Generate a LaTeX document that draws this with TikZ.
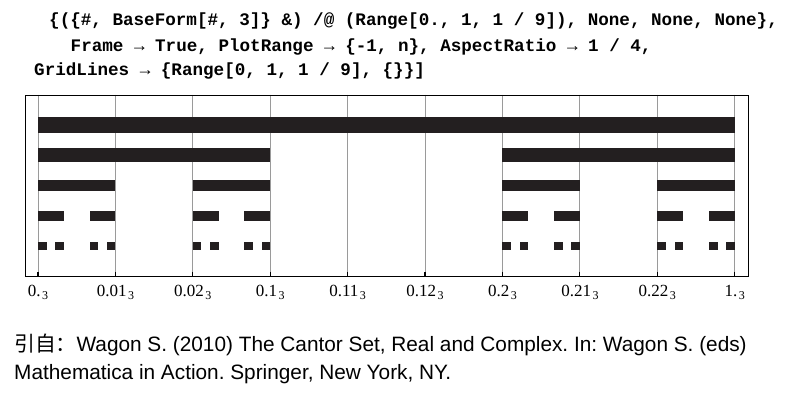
\documentclass[tikz,border=0pt]{standalone}
\usepackage{fontspec}
\setmainfont{Liberation Serif}
\newfontfamily\codefont{Liberation Mono}
\newfontfamily\capfont{Liberation Sans}
\newfontfamily\cjkfont{Noto Sans CJK SC}
\definecolor{barcol}{HTML}{231F20}
\definecolor{gridcol}{HTML}{9A9A9A}
\frenchspacing
\begin{document}
\begin{tikzpicture}[x=1pt,y=-1pt,
  bar/.style={fill=barcol},
  gridline/.style={draw=gridcol,line width=0.9pt},
  frameline/.style={draw=black,line width=1.1pt},
  tickline/.style={draw=black,line width=1.2pt},
  codeline/.style={anchor=base west,inner sep=0pt,font=\codefont\bfseries\fontsize{17.6}{17.6}\selectfont},
  ticklabel/.style={anchor=base,inner sep=0pt,font=\fontsize{17}{17}\selectfont},
  capline/.style={anchor=base west,inner sep=0pt,font=\capfont\fontsize{20.8}{20.8}\selectfont}]
\useasboundingbox (0,0) rectangle (802,394);
% code
\node[codeline] (c1) at (49,25) {\{(\{\#, BaseForm[\#, 3]\} \&) /@ (Range[0., 1, 1 / 9]), None, None, None\},};
\node[codeline] (c2) at (70.5,51) {Frame → True, PlotRange → \{-1, n\}, AspectRatio → 1 / 4,};
\node[codeline] (c3) at (34,75) {GridLines → \{Range[0, 1, 1 / 9], \{\}\}]};
% grid
\foreach \i in {0,...,9}{
  \draw[gridline] ({38+\i*77.411},94.5) -- ({38+\i*77.411},275.7);
  \draw[tickline] ({38+\i*77.411},271.5) -- ({38+\i*77.411},275.7);
}
% bars (units of 1/81)
\foreach \a in {0} \fill[bar] ({38+\a*8.6012},116.7) rectangle ({38+(\a+81)*8.6012},132.7);
\foreach \a in {0,54} \fill[bar] ({38+\a*8.6012},148) rectangle ({38+(\a+27)*8.6012},162);
\foreach \a in {0,18,54,72} \fill[bar] ({38+\a*8.6012},180) rectangle ({38+(\a+9)*8.6012},190.7);
\foreach \a in {0,6,18,24,54,60,72,78} \fill[bar] ({38+\a*8.6012},211) rectangle ({38+(\a+3)*8.6012},221);
\foreach \a in {0,2,6,8,18,20,24,26,54,56,60,62,72,74,78,80} \fill[bar] ({38+\a*8.6012},242) rectangle ({38+(\a+1)*8.6012},249.5);
% frame
\node[frameline,draw,minimum width=723.8pt,minimum height=181.2pt,inner sep=0pt,anchor=north west] (frame) at (24.5,94.5) {};
% labels
\foreach \t [count=\i from 0] in {0.,0.01,0.02,0.1,0.11,0.12,0.2,0.21,0.22,1.}{
  \node[ticklabel] (l\i) at ({38+\i*77.411},296) {\t\hspace{1.5pt}\raisebox{-3.5pt}{\fontsize{12}{12}\selectfont 3}};
}
% caption
\node[capline] (cap1) at (14,351) {{\cjkfont 引自：}Wagon S. (2010) The Cantor Set, Real and Complex. In: Wagon S. (eds)};
\node[capline] (cap2) at (14,379) {Mathematica in Action. Springer, New York, NY.};
\end{tikzpicture}
\end{document}
